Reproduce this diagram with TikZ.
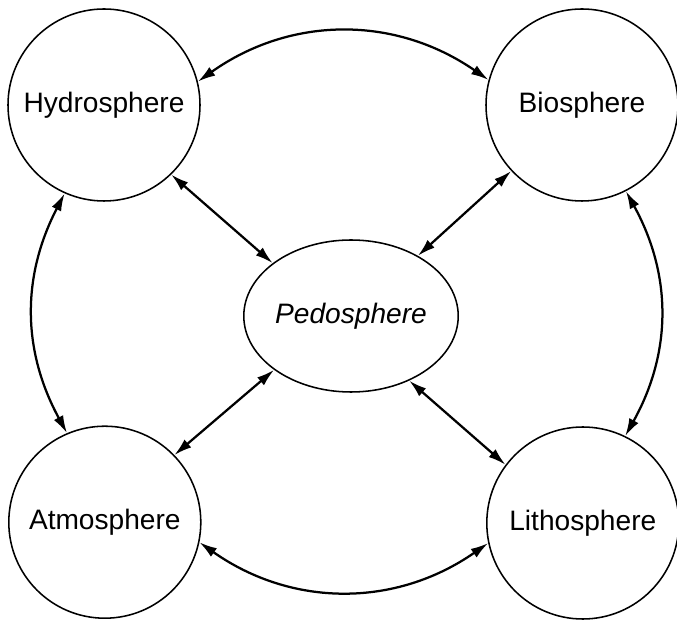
\documentclass[tikz,border=0pt]{standalone}
\usepackage{fontspec}
\setmainfont{Liberation Sans}
\usetikzlibrary{arrows.meta,shapes.geometric}

\begin{document}
\begin{tikzpicture}[
        sphere/.style={draw, circle, line width=1.1pt, minimum size=4.8cm, inner sep=0pt, font=\fontsize{20}{24}\selectfont},
        link/.style={line width=1.6pt, {Latex[length=4.4mm,width=2.6mm]}-{Latex[length=4.4mm,width=2.6mm]}}
    ]
                \useasboundingbox (0,0) rectangle (16.925,15.475);
                \node[sphere] (hydro) at (2.6,12.85) {Hydrosphere};
                \node[sphere] (bio) at (14.55,12.85) {Biosphere};
                \node[sphere] (atmo) at (2.62,2.42) {Atmosphere};
                \node[sphere] (litho) at (14.57,2.4) {Lithosphere};
                \node[draw, ellipse, line width=1.1pt, minimum width=4.92cm, minimum height=3.8cm, inner sep=0pt, font=\fontsize{20}{24}\selectfont\itshape] (pedo) at (8.775,7.575) {Pedosphere};
                % outer ring
                \draw[link] (hydro.14) to[bend left=35] (bio.165);
                \draw[link] (atmo.-12) to[bend right=35] (litho.192);
                \draw[link] (hydro.246) to[bend right=28] (atmo.113);
                \draw[link] (bio.297) to[bend left=29] (litho.64);
                % to the centre
                \draw[link] (hydro.-46) -- (pedo.146);
                \draw[link] (bio.223) -- (pedo.42);
                \draw[link] (atmo.44) -- (pedo.215);
                \draw[link] (litho.143) -- (pedo.-48);
            \end{tikzpicture}
\end{document}
